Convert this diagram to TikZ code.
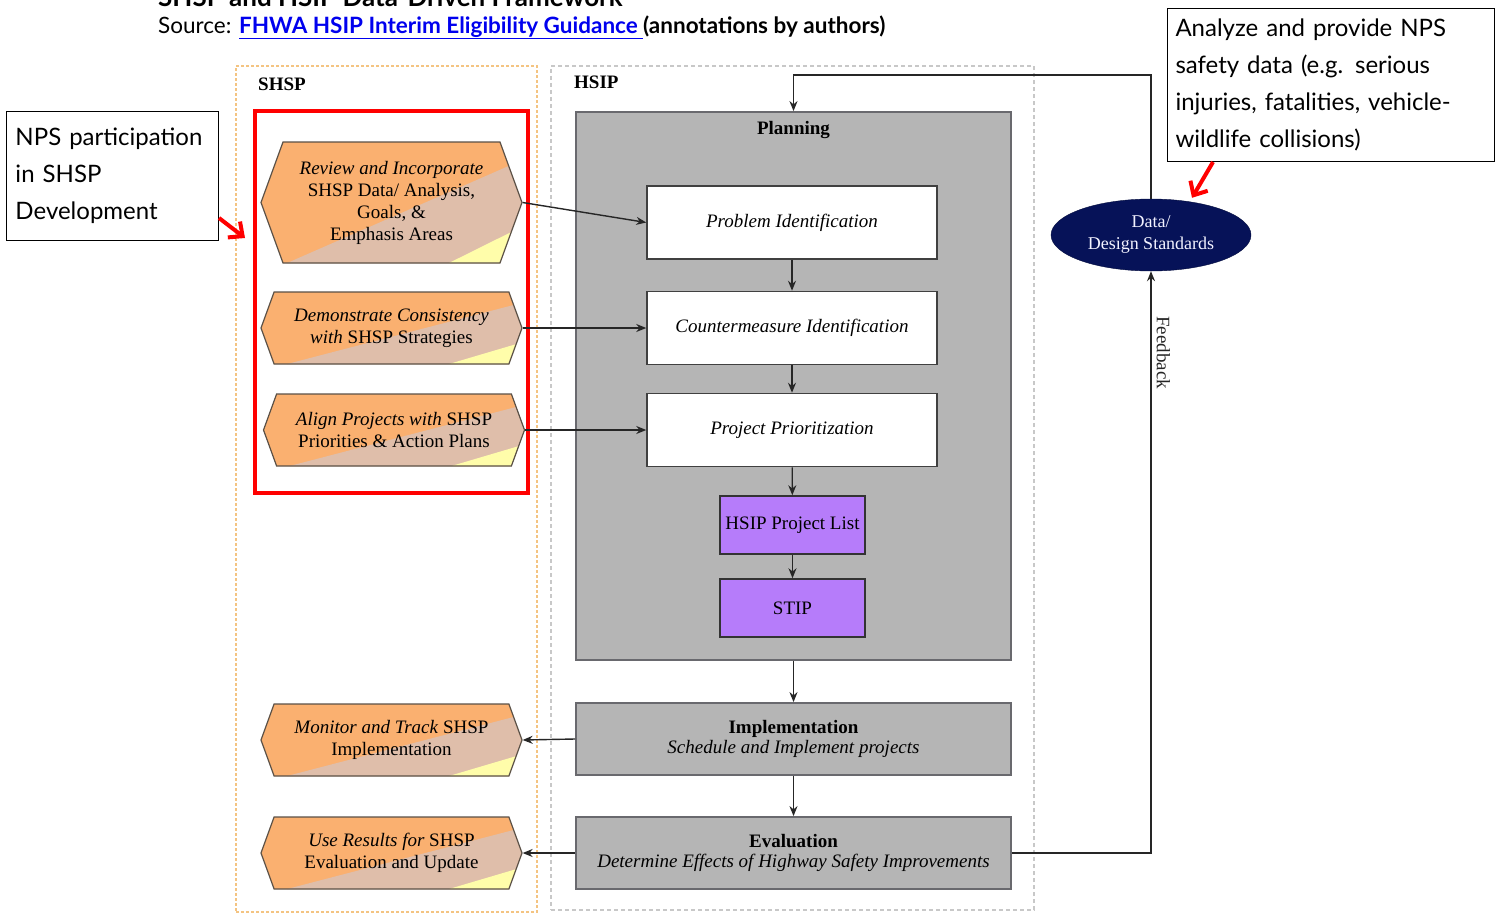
\documentclass[tikz,border=0pt]{standalone}
\usepackage{fontspec}
\setmainfont{Liberation Serif}
\newfontfamily\notefont{Lato}
\usetikzlibrary{shapes.geometric, shapes.symbols, arrows.meta, positioning, backgrounds, calc}

\definecolor{hexorange}{RGB}{250,176,112}
\definecolor{hextan}{RGB}{223,190,170}
\definecolor{hexyellow}{RGB}{255,253,170}
\definecolor{hexedge}{RGB}{90,80,70}
\definecolor{boxgrey}{RGB}{181,181,181}
\definecolor{edgegrey}{RGB}{105,105,110}
\definecolor{listviolet}{RGB}{182,124,250}
\definecolor{navy}{RGB}{6,18,88}
\definecolor{zoneorange}{RGB}{244,196,130}
\definecolor{zonegrey}{RGB}{200,200,200}
\definecolor{linkblue}{RGB}{0,0,238}

\begin{document}
\begin{tikzpicture}[
    x=1pt, y=-1pt,
    % Styles
    shsp step/.style={signal, signal to=west and east, signal pointer angle=140, draw=hexedge, line width=1.2pt, fill=hexorange, align=center, font=\fontsize{19}{22}\selectfont, minimum width=261pt, minimum height=72pt, inner sep=0pt,
        path picture={
            \coordinate (nw) at (path picture bounding box.north west);
            \coordinate (se) at (path picture bounding box.south east);
            \fill[hextan] ($(nw|-se)!0.1!(se)$) -- (se) -- ($(se|-nw)!0.15!(se)$) -- cycle;
            \fill[hexyellow] ($(nw|-se)!0.72!(se)$) -- (se) -- ($(se|-nw)!0.7!(se)$) -- cycle;
        }},
    white step/.style={rectangle, draw=black!75, line width=1.5pt, fill=white, align=center, font=\fontsize{19}{22}\selectfont, minimum width=290pt, minimum height=73pt},
    list step/.style={rectangle, draw=black!80, line width=1.5pt, fill=listviolet, align=center, font=\fontsize{19}{22}\selectfont, minimum width=145pt, minimum height=58pt},
    grey step/.style={rectangle, draw=edgegrey, line width=1.8pt, fill=boxgrey, align=center, font=\fontsize{19}{20}\selectfont, minimum width=435pt, minimum height=72pt},
    plan box/.style={rectangle, draw=edgegrey, line width=1.8pt, fill=boxgrey, minimum width=435pt, minimum height=548pt},
    shsp zone/.style={rectangle, draw=zoneorange, line width=1.5pt, dash pattern=on 3pt off 2pt, minimum width=301pt, minimum height=846pt},
    hsip zone/.style={rectangle, draw=zonegrey, line width=1.2pt, dash pattern=on 4pt off 3pt, minimum width=483pt, minimum height=844pt},
    focus box/.style={rectangle, draw=red, line width=4pt, minimum width=273pt, minimum height=382pt},
    data ellipse/.style={ellipse, draw=navy!70!black, fill=navy, text=blue!5!white, align=center, font=\fontsize{18}{22}\selectfont, minimum width=200pt, minimum height=72pt, inner sep=0pt},
    note box/.style={rectangle, draw=black, line width=1pt, fill=white, align=left, font=\notefont\fontsize{24}{37}\selectfont, inner xsep=9pt},
    zone label/.style={anchor=west, font=\bfseries\fontsize{19}{22}\selectfont, inner sep=0pt},
    flow/.style={-{Stealth[length=10pt, width=8pt]}, line width=1.4pt, black!85},
    red arrow/.style={-{Straight Barb[length=11pt, width=20pt]}, line width=4pt, red}
]
\useasboundingbox (0,0) rectangle (1500,913);

% Heading
\node[anchor=base west, inner sep=0pt, font=\notefont\bfseries\fontsize{26}{30}\selectfont] (title) at (158,6) {SHSP and HSIP Data-Driven Framework};
\node[anchor=base west, inner sep=0pt, font=\notefont\fontsize{22.5}{26}\selectfont] (source) at (158,33) {Source: {\bfseries\color{linkblue}\underline{FHWA HSIP Interim Eligibility Guidance\ }}{\bfseries(annotations by authors)}};

% Zones
\node[shsp zone] (shspzone) at (386.5,489) {};
\node[hsip zone] (hsipzone) at (792.5,488) {};
\node[zone label] (shsplabel) at (258,84) {SHSP};
\node[zone label] (hsiplabel) at (574,82) {HSIP};

% SHSP steps
\node[shsp step, minimum height=121pt] (review) at (391.5,202.5) {\textit{Review and Incorporate}\\SHSP Data/ Analysis,\\Goals, \&\\Emphasis Areas};
\node[shsp step] (consist) at (391.5,328) {\textit{Demonstrate Consistency}\\\textit{with} SHSP Strategies};
\node[shsp step] (align) at (394,430) {\textit{Align Projects with} SHSP\\Priorities \& Action Plans};
\node[shsp step] (monitor) at (391.5,740) {\textit{Monitor and Track} SHSP\\Implementation};
\node[shsp step] (results) at (391.5,853) {\textit{Use Results for} SHSP\\Evaluation and Update};
\node[focus box] (focus) at (391.5,302) {};

% HSIP planning
\node[plan box] (planning) at (793.5,386) {};
\node[anchor=north, inner sep=0pt, font=\bfseries\fontsize{19}{22}\selectfont] (plantitle) at (793.5,121) {Planning};
\node[white step] (problem) at (792,222.5) {\textit{Problem Identification}};
\node[white step] (counter) at (792,328) {\textit{Countermeasure Identification}};
\node[white step] (priority) at (792,430) {\textit{Project Prioritization}};
\node[list step] (projlist) at (792.5,525) {HSIP Project List};
\node[list step] (stip) at (792.5,608) {STIP};

% Implementation and evaluation
\node[grey step] (implement) at (793.5,739) {\textbf{Implementation}\\\textit{Schedule and Implement projects}};
\node[grey step] (evaluate) at (793.5,853) {\textbf{Evaluation}\\\textit{Determine Effects of Highway Safety Improvements}};

% Data
\node[data ellipse] (data) at (1151,235) {Data/\\Design Standards};

% Annotations
\node[note box, text width=194pt, minimum height=129pt, anchor=north west] (npsnote) at (6,111) {NPS participation\\in SHSP\\Development};
\node[note box, text width=311pt, minimum height=153pt, anchor=north west, inner xsep=8pt] (datanote) at (1167,8) {Analyze and provide NPS\\safety data (e.g. serious\\injuries, fatalities, vehicle-\\wildlife collisions)};

% Connections
\draw[flow] (review.east) -- (problem.west);
\draw[flow] (consist.east) -- (counter.west);
\draw[flow] (align.east) -- (priority.west);
\draw[flow] (problem) -- (counter);
\draw[flow] (counter) -- (priority);
\draw[flow] (priority) -- (projlist);
\draw[flow] (projlist) -- (stip);
\draw[flow] (planning) -- (implement);
\draw[flow] (implement) -- (evaluate);
\draw[flow] (implement.west) -- (monitor.east);
\draw[flow] (evaluate.west) -- (results.east);
\draw[flow] (evaluate.east) -| node[pos=0.93, rotate=-90, anchor=south, inner sep=5pt, font=\fontsize{19}{22}\selectfont] {Feedback} (data.south);
\draw[flow] (data.north) -- ++(0,-124) -| (planning.north);

\draw[red arrow] ([yshift=23pt]npsnote.south east) -- ([xshift=-8pt,yshift=-129pt]focus.north west);
\draw[red arrow] ([xshift=46pt]datanote.south west) -- ([xshift=41pt,yshift=1pt]data.north);

\end{tikzpicture}
\end{document}
